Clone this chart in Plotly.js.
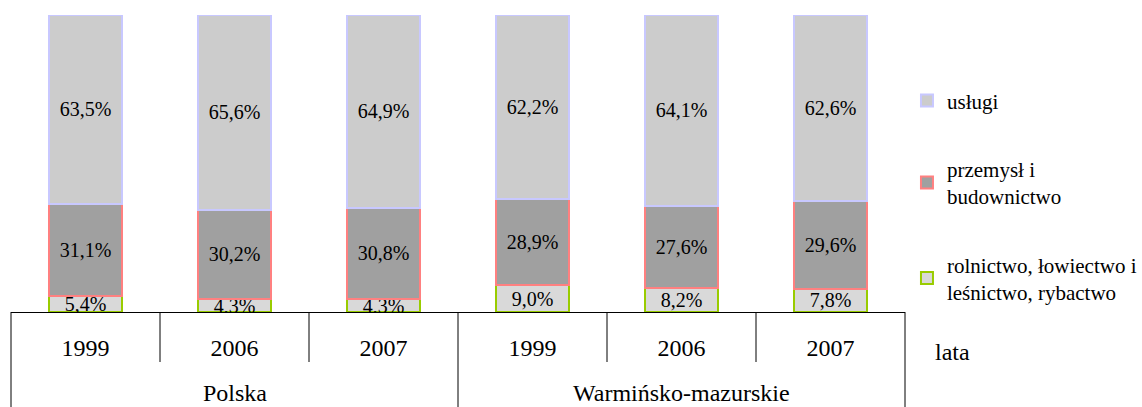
<!DOCTYPE html>
<html>
<head>
<meta charset="utf-8">
<script src="https://cdn.plot.ly/plotly-3.0.1.min.js"></script>
<style>html,body{margin:0;padding:0;background:#fff;}#chart{width:1142px;height:407px;}</style>
</head>
<body>
<div id="chart"></div>
<script>
// ---- data ----
const groups = ["Polska", "Polska", "Polska", "Warmińsko-mazurskie", "Warmińsko-mazurskie", "Warmińsko-mazurskie"];
const years = ["1999", "2006", "2007", "1999", "2006", "2007"];
const rolnictwo = [5.4, 4.3, 4.3, 9.0, 8.2, 7.8];
const przemysl = [31.1, 30.2, 30.8, 28.9, 27.6, 29.6];
const uslugi = [63.5, 65.6, 64.9, 62.2, 64.1, 62.6];
const seriesNames = ["rolnictwo, łowiectwo i<br>leśnictwo, rybactwo", "przemysł i<br>budownictwo", "usługi"];
const axisTitle = "lata";

const serif = "Liberation Serif";
const idx = years.map((_, i) => i);
const n = years.length;
const labelFont = {family: serif, size: 20, color: "#000"};

function barTrace(vals, name, fill, line, rank) {
  return {
    type: "bar", x: idx, y: vals, name: name, width: 0.49,
    marker: {color: fill, line: {color: line, width: 2}},
    texttemplate: "%{y:.1f}%", textposition: "inside", insidetextanchor: "middle",
    constraintext: "none", textangle: 0,
    textfont: labelFont, insidetextfont: labelFont, outsidetextfont: labelFont,
    hoverinfo: "none", legendgroup: name, legendrank: rank
  };
}

const traces = [
  barTrace(rolnictwo, seriesNames[0], "#d9d9d9", "#99cc00", 3),
  barTrace(przemysl, seriesNames[1], "#a0a0a0", "#ff8080", 2),
  barTrace(uslugi, seriesNames[2], "#cccccc", "#c8c8ff", 1)
];

// table lines below the axis
const shapes = [];
const px = b => (b + 0.5) / n;
const bottom = -0.4;
for (let i = 1; i < n; i++) {
  const full = groups[i] !== groups[i - 1];
  shapes.push({type: "line", xref: "paper", yref: "paper", x0: px(i - 0.5), x1: px(i - 0.5),
    y0: 0, y1: full ? bottom : -50 / 297, line: {color: "#000", width: 1}});
}
shapes.push({type: "line", xref: "paper", yref: "paper", x0: 0, x1: 0, y0: 0, y1: bottom, line: {color: "#000", width: 1}});
shapes.push({type: "line", xref: "paper", yref: "paper", x0: 1, x1: 1, y0: 0, y1: bottom, line: {color: "#000", width: 1}});

// group labels
const annotations = [];
const uniq = [...new Set(groups)];
uniq.forEach(g => {
  const ids = idx.filter(i => groups[i] === g);
  const c = ids.reduce((a, b) => a + b, 0) / ids.length;
  annotations.push({x: px(c), xref: "paper", y: -81 / 297, yref: "paper", text: g, showarrow: false,
    xanchor: "center", yanchor: "middle", font: {family: serif, size: 24, color: "#000"}});
});
annotations.push({x: (933 - 11) / 894, xref: "paper", y: -40 / 297, yref: "paper", text: axisTitle, showarrow: false,
  xanchor: "left", yanchor: "middle", font: {family: serif, size: 24, color: "#000"}});

const layout = {
  width: 1142, height: 407,
  margin: {l: 11, r: 237, t: 15, b: 95, autoexpand: false},
  barmode: "stack", separators: ", ",
  paper_bgcolor: "#fff", plot_bgcolor: "#fff",
  font: {family: serif, color: "#000", size: 19},
  xaxis: {range: [-0.5, n - 0.5], tickvals: idx, ticktext: years, ticks: "",
    showline: true, linecolor: "#000", linewidth: 1, showgrid: false, zeroline: false,
    tickfont: {family: serif, size: 24, color: "#000"}, ticklabelstandoff: 14, fixedrange: true,
    automargin: false},
  yaxis: {range: [0, 100], visible: false, fixedrange: true},
  showlegend: true,
  legend: {traceorder: "grouped", x: 1.0022, xanchor: "left", y: 0.78, yanchor: "top",
    font: {family: serif, size: 21, color: "#000"}, tracegroupgap: 38, bgcolor: "rgba(0,0,0,0)"},
  shapes: shapes, annotations: annotations
};

Plotly.newPlot("chart", traces, layout, {displayModeBar: false, staticPlot: true});
</script>
</body>
</html>
